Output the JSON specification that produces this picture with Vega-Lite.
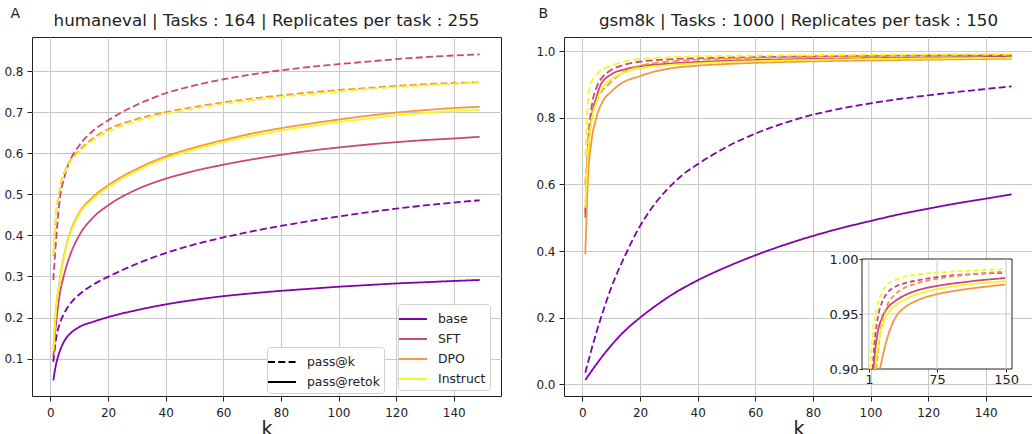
{
"$schema":"https://vega.github.io/schema/vega-lite/v6.json",
"background":"white",
"padding":{"left":3,"top":6,"right":0,"bottom":0},
"config":{
 "font":"DejaVu Sans",
 "view":{"stroke":"#222","strokeWidth":1},
 "axis":{"labelFont":"DejaVu Sans","labelFontSize":12,"labelColor":"#222","tickColor":"#222","tickSize":5,"domain":false,"gridColor":"#c8c8c8","gridWidth":1,"labelPadding":4,"titleFont":"DejaVu Sans","titleFontSize":19,"titleFontWeight":"normal","titleColor":"#222"},
 "title":{"font":"DejaVu Sans","fontSize":16.7,"fontWeight":"normal","color":"#222"},
 "line":{"interpolate":"monotone"},
 "concat":{"spacing":33}
},
"datasets":{
"A":[
{"m":"base","s":"pass@k","k":1,"v":0.092},{"m":"base","s":"pass@k","k":2,"v":0.15},{"m":"base","s":"pass@k","k":3,"v":0.18},{"m":"base","s":"pass@k","k":5,"v":0.213},{"m":"base","s":"pass@k","k":7,"v":0.235},{"m":"base","s":"pass@k","k":10,"v":0.256},{"m":"base","s":"pass@k","k":15,"v":0.281},{"m":"base","s":"pass@k","k":20,"v":0.299},{"m":"base","s":"pass@k","k":30,"v":0.331},{"m":"base","s":"pass@k","k":40,"v":0.357},{"m":"base","s":"pass@k","k":50,"v":0.378},{"m":"base","s":"pass@k","k":60,"v":0.395},{"m":"base","s":"pass@k","k":70,"v":0.41},{"m":"base","s":"pass@k","k":80,"v":0.423},{"m":"base","s":"pass@k","k":90,"v":0.435},{"m":"base","s":"pass@k","k":100,"v":0.446},{"m":"base","s":"pass@k","k":110,"v":0.456},{"m":"base","s":"pass@k","k":120,"v":0.465},{"m":"base","s":"pass@k","k":130,"v":0.473},{"m":"base","s":"pass@k","k":140,"v":0.48},{"m":"base","s":"pass@k","k":149,"v":0.4855},
{"m":"base","s":"pass@retok","k":1,"v":0.047},{"m":"base","s":"pass@retok","k":2,"v":0.088},{"m":"base","s":"pass@retok","k":3,"v":0.113},{"m":"base","s":"pass@retok","k":5,"v":0.145},{"m":"base","s":"pass@retok","k":7,"v":0.162},{"m":"base","s":"pass@retok","k":10,"v":0.177},{"m":"base","s":"pass@retok","k":15,"v":0.19},{"m":"base","s":"pass@retok","k":20,"v":0.201},{"m":"base","s":"pass@retok","k":30,"v":0.218},{"m":"base","s":"pass@retok","k":40,"v":0.232},{"m":"base","s":"pass@retok","k":50,"v":0.243},{"m":"base","s":"pass@retok","k":60,"v":0.252},{"m":"base","s":"pass@retok","k":70,"v":0.259},{"m":"base","s":"pass@retok","k":80,"v":0.265},{"m":"base","s":"pass@retok","k":90,"v":0.27},{"m":"base","s":"pass@retok","k":100,"v":0.275},{"m":"base","s":"pass@retok","k":110,"v":0.279},{"m":"base","s":"pass@retok","k":120,"v":0.283},{"m":"base","s":"pass@retok","k":130,"v":0.286},{"m":"base","s":"pass@retok","k":140,"v":0.289},{"m":"base","s":"pass@retok","k":149,"v":0.2915},
{"m":"SFT","s":"pass@k","k":1,"v":0.291},{"m":"SFT","s":"pass@k","k":2,"v":0.392},{"m":"SFT","s":"pass@k","k":3,"v":0.473},{"m":"SFT","s":"pass@k","k":5,"v":0.546},{"m":"SFT","s":"pass@k","k":7,"v":0.585},{"m":"SFT","s":"pass@k","k":10,"v":0.619},{"m":"SFT","s":"pass@k","k":15,"v":0.656},{"m":"SFT","s":"pass@k","k":20,"v":0.68},{"m":"SFT","s":"pass@k","k":30,"v":0.718},{"m":"SFT","s":"pass@k","k":40,"v":0.746},{"m":"SFT","s":"pass@k","k":50,"v":0.765},{"m":"SFT","s":"pass@k","k":60,"v":0.78},{"m":"SFT","s":"pass@k","k":70,"v":0.792},{"m":"SFT","s":"pass@k","k":80,"v":0.802},{"m":"SFT","s":"pass@k","k":90,"v":0.81},{"m":"SFT","s":"pass@k","k":100,"v":0.817},{"m":"SFT","s":"pass@k","k":110,"v":0.823},{"m":"SFT","s":"pass@k","k":120,"v":0.829},{"m":"SFT","s":"pass@k","k":130,"v":0.834},{"m":"SFT","s":"pass@k","k":140,"v":0.838},{"m":"SFT","s":"pass@k","k":149,"v":0.8405},
{"m":"SFT","s":"pass@retok","k":1,"v":0.104},{"m":"SFT","s":"pass@retok","k":2,"v":0.189},{"m":"SFT","s":"pass@retok","k":3,"v":0.246},{"m":"SFT","s":"pass@retok","k":5,"v":0.311},{"m":"SFT","s":"pass@retok","k":7,"v":0.355},{"m":"SFT","s":"pass@retok","k":10,"v":0.4},{"m":"SFT","s":"pass@retok","k":15,"v":0.445},{"m":"SFT","s":"pass@retok","k":20,"v":0.473},{"m":"SFT","s":"pass@retok","k":30,"v":0.512},{"m":"SFT","s":"pass@retok","k":40,"v":0.538},{"m":"SFT","s":"pass@retok","k":50,"v":0.557},{"m":"SFT","s":"pass@retok","k":60,"v":0.572},{"m":"SFT","s":"pass@retok","k":70,"v":0.585},{"m":"SFT","s":"pass@retok","k":80,"v":0.596},{"m":"SFT","s":"pass@retok","k":90,"v":0.606},{"m":"SFT","s":"pass@retok","k":100,"v":0.614},{"m":"SFT","s":"pass@retok","k":110,"v":0.621},{"m":"SFT","s":"pass@retok","k":120,"v":0.627},{"m":"SFT","s":"pass@retok","k":130,"v":0.632},{"m":"SFT","s":"pass@retok","k":140,"v":0.636},{"m":"SFT","s":"pass@retok","k":149,"v":0.64},
{"m":"DPO","s":"pass@k","k":1,"v":0.35},{"m":"DPO","s":"pass@k","k":2,"v":0.455},{"m":"DPO","s":"pass@k","k":3,"v":0.505},{"m":"DPO","s":"pass@k","k":5,"v":0.556},{"m":"DPO","s":"pass@k","k":7,"v":0.583},{"m":"DPO","s":"pass@k","k":10,"v":0.607},{"m":"DPO","s":"pass@k","k":15,"v":0.638},{"m":"DPO","s":"pass@k","k":20,"v":0.658},{"m":"DPO","s":"pass@k","k":30,"v":0.683},{"m":"DPO","s":"pass@k","k":40,"v":0.7},{"m":"DPO","s":"pass@k","k":50,"v":0.713},{"m":"DPO","s":"pass@k","k":60,"v":0.724},{"m":"DPO","s":"pass@k","k":70,"v":0.733},{"m":"DPO","s":"pass@k","k":80,"v":0.741},{"m":"DPO","s":"pass@k","k":90,"v":0.748},{"m":"DPO","s":"pass@k","k":100,"v":0.754},{"m":"DPO","s":"pass@k","k":110,"v":0.759},{"m":"DPO","s":"pass@k","k":120,"v":0.764},{"m":"DPO","s":"pass@k","k":130,"v":0.768},{"m":"DPO","s":"pass@k","k":140,"v":0.771},{"m":"DPO","s":"pass@k","k":149,"v":0.773},
{"m":"DPO","s":"pass@retok","k":1,"v":0.12},{"m":"DPO","s":"pass@retok","k":2,"v":0.225},{"m":"DPO","s":"pass@retok","k":3,"v":0.28},{"m":"DPO","s":"pass@retok","k":5,"v":0.36},{"m":"DPO","s":"pass@retok","k":7,"v":0.41},{"m":"DPO","s":"pass@retok","k":10,"v":0.455},{"m":"DPO","s":"pass@retok","k":15,"v":0.495},{"m":"DPO","s":"pass@retok","k":20,"v":0.522},{"m":"DPO","s":"pass@retok","k":30,"v":0.562},{"m":"DPO","s":"pass@retok","k":40,"v":0.592},{"m":"DPO","s":"pass@retok","k":50,"v":0.614},{"m":"DPO","s":"pass@retok","k":60,"v":0.632},{"m":"DPO","s":"pass@retok","k":70,"v":0.648},{"m":"DPO","s":"pass@retok","k":80,"v":0.661},{"m":"DPO","s":"pass@retok","k":90,"v":0.672},{"m":"DPO","s":"pass@retok","k":100,"v":0.682},{"m":"DPO","s":"pass@retok","k":110,"v":0.691},{"m":"DPO","s":"pass@retok","k":120,"v":0.699},{"m":"DPO","s":"pass@retok","k":130,"v":0.705},{"m":"DPO","s":"pass@retok","k":140,"v":0.71},{"m":"DPO","s":"pass@retok","k":149,"v":0.713},
{"m":"Instruct","s":"pass@k","k":1,"v":0.352},{"m":"Instruct","s":"pass@k","k":2,"v":0.457},{"m":"Instruct","s":"pass@k","k":3,"v":0.506},{"m":"Instruct","s":"pass@k","k":5,"v":0.554},{"m":"Instruct","s":"pass@k","k":7,"v":0.58},{"m":"Instruct","s":"pass@k","k":10,"v":0.603},{"m":"Instruct","s":"pass@k","k":15,"v":0.633},{"m":"Instruct","s":"pass@k","k":20,"v":0.652},{"m":"Instruct","s":"pass@k","k":30,"v":0.678},{"m":"Instruct","s":"pass@k","k":40,"v":0.696},{"m":"Instruct","s":"pass@k","k":50,"v":0.709},{"m":"Instruct","s":"pass@k","k":60,"v":0.72},{"m":"Instruct","s":"pass@k","k":70,"v":0.729},{"m":"Instruct","s":"pass@k","k":80,"v":0.737},{"m":"Instruct","s":"pass@k","k":90,"v":0.744},{"m":"Instruct","s":"pass@k","k":100,"v":0.75},{"m":"Instruct","s":"pass@k","k":110,"v":0.756},{"m":"Instruct","s":"pass@k","k":120,"v":0.761},{"m":"Instruct","s":"pass@k","k":130,"v":0.765},{"m":"Instruct","s":"pass@k","k":140,"v":0.769},{"m":"Instruct","s":"pass@k","k":149,"v":0.772},
{"m":"Instruct","s":"pass@retok","k":1,"v":0.118},{"m":"Instruct","s":"pass@retok","k":2,"v":0.222},{"m":"Instruct","s":"pass@retok","k":3,"v":0.277},{"m":"Instruct","s":"pass@retok","k":5,"v":0.357},{"m":"Instruct","s":"pass@retok","k":7,"v":0.406},{"m":"Instruct","s":"pass@retok","k":10,"v":0.451},{"m":"Instruct","s":"pass@retok","k":15,"v":0.49},{"m":"Instruct","s":"pass@retok","k":20,"v":0.517},{"m":"Instruct","s":"pass@retok","k":30,"v":0.557},{"m":"Instruct","s":"pass@retok","k":40,"v":0.587},{"m":"Instruct","s":"pass@retok","k":50,"v":0.609},{"m":"Instruct","s":"pass@retok","k":60,"v":0.627},{"m":"Instruct","s":"pass@retok","k":70,"v":0.642},{"m":"Instruct","s":"pass@retok","k":80,"v":0.655},{"m":"Instruct","s":"pass@retok","k":90,"v":0.666},{"m":"Instruct","s":"pass@retok","k":100,"v":0.676},{"m":"Instruct","s":"pass@retok","k":110,"v":0.684},{"m":"Instruct","s":"pass@retok","k":120,"v":0.692},{"m":"Instruct","s":"pass@retok","k":130,"v":0.698},{"m":"Instruct","s":"pass@retok","k":140,"v":0.703},{"m":"Instruct","s":"pass@retok","k":149,"v":0.706}
],
"B":[
{"m":"base","s":"pass@k","k":1,"v":0.035},{"m":"base","s":"pass@k","k":2,"v":0.068},{"m":"base","s":"pass@k","k":3,"v":0.1},{"m":"base","s":"pass@k","k":5,"v":0.16},{"m":"base","s":"pass@k","k":7,"v":0.215},{"m":"base","s":"pass@k","k":10,"v":0.29},{"m":"base","s":"pass@k","k":15,"v":0.39},{"m":"base","s":"pass@k","k":20,"v":0.475},{"m":"base","s":"pass@k","k":25,"v":0.54},{"m":"base","s":"pass@k","k":30,"v":0.59},{"m":"base","s":"pass@k","k":35,"v":0.63},{"m":"base","s":"pass@k","k":40,"v":0.66},{"m":"base","s":"pass@k","k":50,"v":0.712},{"m":"base","s":"pass@k","k":60,"v":0.752},{"m":"base","s":"pass@k","k":75,"v":0.797},{"m":"base","s":"pass@k","k":90,"v":0.828},{"m":"base","s":"pass@k","k":100,"v":0.843},{"m":"base","s":"pass@k","k":110,"v":0.856},{"m":"base","s":"pass@k","k":120,"v":0.867},{"m":"base","s":"pass@k","k":130,"v":0.877},{"m":"base","s":"pass@k","k":140,"v":0.886},{"m":"base","s":"pass@k","k":149,"v":0.894},
{"m":"base","s":"pass@retok","k":1,"v":0.013},{"m":"base","s":"pass@retok","k":3,"v":0.038},{"m":"base","s":"pass@retok","k":5,"v":0.062},{"m":"base","s":"pass@retok","k":7,"v":0.085},{"m":"base","s":"pass@retok","k":10,"v":0.117},{"m":"base","s":"pass@retok","k":15,"v":0.163},{"m":"base","s":"pass@retok","k":20,"v":0.2},{"m":"base","s":"pass@retok","k":25,"v":0.233},{"m":"base","s":"pass@retok","k":30,"v":0.263},{"m":"base","s":"pass@retok","k":40,"v":0.312},{"m":"base","s":"pass@retok","k":50,"v":0.352},{"m":"base","s":"pass@retok","k":60,"v":0.387},{"m":"base","s":"pass@retok","k":75,"v":0.432},{"m":"base","s":"pass@retok","k":90,"v":0.469},{"m":"base","s":"pass@retok","k":100,"v":0.49},{"m":"base","s":"pass@retok","k":110,"v":0.51},{"m":"base","s":"pass@retok","k":120,"v":0.527},{"m":"base","s":"pass@retok","k":130,"v":0.543},{"m":"base","s":"pass@retok","k":140,"v":0.557},{"m":"base","s":"pass@retok","k":149,"v":0.57},
{"m":"SFT","s":"pass@k","k":1,"v":0.515},{"m":"SFT","s":"pass@k","k":2,"v":0.73},{"m":"SFT","s":"pass@k","k":3,"v":0.82},{"m":"SFT","s":"pass@k","k":5,"v":0.893},{"m":"SFT","s":"pass@k","k":5.3,"v":0.9},{"m":"SFT","s":"pass@k","k":7,"v":0.922},{"m":"SFT","s":"pass@k","k":10,"v":0.943},{"m":"SFT","s":"pass@k","k":15,"v":0.96},{"m":"SFT","s":"pass@k","k":20,"v":0.968},{"m":"SFT","s":"pass@k","k":30,"v":0.975},{"m":"SFT","s":"pass@k","k":40,"v":0.978},{"m":"SFT","s":"pass@k","k":50,"v":0.98},{"m":"SFT","s":"pass@k","k":60,"v":0.9815},{"m":"SFT","s":"pass@k","k":75,"v":0.9835},{"m":"SFT","s":"pass@k","k":90,"v":0.985},{"m":"SFT","s":"pass@k","k":100,"v":0.9855},{"m":"SFT","s":"pass@k","k":110,"v":0.986},{"m":"SFT","s":"pass@k","k":120,"v":0.9865},{"m":"SFT","s":"pass@k","k":130,"v":0.987},{"m":"SFT","s":"pass@k","k":140,"v":0.9872},{"m":"SFT","s":"pass@k","k":149,"v":0.9875},
{"m":"SFT","s":"pass@retok","k":1,"v":0.5},{"m":"SFT","s":"pass@retok","k":2,"v":0.7},{"m":"SFT","s":"pass@retok","k":3,"v":0.79},{"m":"SFT","s":"pass@retok","k":5,"v":0.865},{"m":"SFT","s":"pass@retok","k":6.4,"v":0.9},{"m":"SFT","s":"pass@retok","k":7,"v":0.908},{"m":"SFT","s":"pass@retok","k":10,"v":0.93},{"m":"SFT","s":"pass@retok","k":15,"v":0.946},{"m":"SFT","s":"pass@retok","k":20,"v":0.954},{"m":"SFT","s":"pass@retok","k":30,"v":0.962},{"m":"SFT","s":"pass@retok","k":40,"v":0.967},{"m":"SFT","s":"pass@retok","k":50,"v":0.9705},{"m":"SFT","s":"pass@retok","k":60,"v":0.973},{"m":"SFT","s":"pass@retok","k":75,"v":0.9755},{"m":"SFT","s":"pass@retok","k":90,"v":0.9775},{"m":"SFT","s":"pass@retok","k":100,"v":0.9785},{"m":"SFT","s":"pass@retok","k":110,"v":0.9795},{"m":"SFT","s":"pass@retok","k":120,"v":0.9805},{"m":"SFT","s":"pass@retok","k":130,"v":0.9813},{"m":"SFT","s":"pass@retok","k":140,"v":0.982},{"m":"SFT","s":"pass@retok","k":149,"v":0.9828},
{"m":"DPO","s":"pass@k","k":1,"v":0.6},{"m":"DPO","s":"pass@k","k":2,"v":0.72},{"m":"DPO","s":"pass@k","k":3,"v":0.79},{"m":"DPO","s":"pass@k","k":5,"v":0.85},{"m":"DPO","s":"pass@k","k":7,"v":0.883},{"m":"DPO","s":"pass@k","k":9,"v":0.9},{"m":"DPO","s":"pass@k","k":10,"v":0.908},{"m":"DPO","s":"pass@k","k":15,"v":0.941},{"m":"DPO","s":"pass@k","k":20,"v":0.956},{"m":"DPO","s":"pass@k","k":30,"v":0.968},{"m":"DPO","s":"pass@k","k":40,"v":0.974},{"m":"DPO","s":"pass@k","k":50,"v":0.977},{"m":"DPO","s":"pass@k","k":60,"v":0.9795},{"m":"DPO","s":"pass@k","k":75,"v":0.982},{"m":"DPO","s":"pass@k","k":90,"v":0.984},{"m":"DPO","s":"pass@k","k":100,"v":0.985},{"m":"DPO","s":"pass@k","k":110,"v":0.986},{"m":"DPO","s":"pass@k","k":120,"v":0.9868},{"m":"DPO","s":"pass@k","k":130,"v":0.9875},{"m":"DPO","s":"pass@k","k":140,"v":0.988},{"m":"DPO","s":"pass@k","k":149,"v":0.9885},
{"m":"DPO","s":"pass@retok","k":1,"v":0.39},{"m":"DPO","s":"pass@retok","k":2,"v":0.63},{"m":"DPO","s":"pass@retok","k":3,"v":0.72},{"m":"DPO","s":"pass@retok","k":5,"v":0.805},{"m":"DPO","s":"pass@retok","k":7,"v":0.848},{"m":"DPO","s":"pass@retok","k":10,"v":0.878},{"m":"DPO","s":"pass@retok","k":13,"v":0.9},{"m":"DPO","s":"pass@retok","k":20,"v":0.925},{"m":"DPO","s":"pass@retok","k":25,"v":0.938},{"m":"DPO","s":"pass@retok","k":30,"v":0.947},{"m":"DPO","s":"pass@retok","k":40,"v":0.956},{"m":"DPO","s":"pass@retok","k":50,"v":0.961},{"m":"DPO","s":"pass@retok","k":60,"v":0.9645},{"m":"DPO","s":"pass@retok","k":75,"v":0.968},{"m":"DPO","s":"pass@retok","k":90,"v":0.9705},{"m":"DPO","s":"pass@retok","k":100,"v":0.9718},{"m":"DPO","s":"pass@retok","k":110,"v":0.973},{"m":"DPO","s":"pass@retok","k":120,"v":0.974},{"m":"DPO","s":"pass@retok","k":130,"v":0.975},{"m":"DPO","s":"pass@retok","k":140,"v":0.976},{"m":"DPO","s":"pass@retok","k":149,"v":0.9768},
{"m":"Instruct","s":"pass@k","k":1,"v":0.685},{"m":"Instruct","s":"pass@k","k":2,"v":0.86},{"m":"Instruct","s":"pass@k","k":2.8,"v":0.9},{"m":"Instruct","s":"pass@k","k":3,"v":0.905},{"m":"Instruct","s":"pass@k","k":5,"v":0.93},{"m":"Instruct","s":"pass@k","k":7,"v":0.944},{"m":"Instruct","s":"pass@k","k":10,"v":0.956},{"m":"Instruct","s":"pass@k","k":15,"v":0.969},{"m":"Instruct","s":"pass@k","k":20,"v":0.976},{"m":"Instruct","s":"pass@k","k":30,"v":0.981},{"m":"Instruct","s":"pass@k","k":40,"v":0.984},{"m":"Instruct","s":"pass@k","k":50,"v":0.9855},{"m":"Instruct","s":"pass@k","k":60,"v":0.9865},{"m":"Instruct","s":"pass@k","k":75,"v":0.9875},{"m":"Instruct","s":"pass@k","k":90,"v":0.9885},{"m":"Instruct","s":"pass@k","k":100,"v":0.989},{"m":"Instruct","s":"pass@k","k":110,"v":0.9895},{"m":"Instruct","s":"pass@k","k":120,"v":0.99},{"m":"Instruct","s":"pass@k","k":130,"v":0.9903},{"m":"Instruct","s":"pass@k","k":140,"v":0.9906},{"m":"Instruct","s":"pass@k","k":149,"v":0.991},
{"m":"Instruct","s":"pass@retok","k":1,"v":0.53},{"m":"Instruct","s":"pass@retok","k":2,"v":0.7},{"m":"Instruct","s":"pass@retok","k":3,"v":0.78},{"m":"Instruct","s":"pass@retok","k":5,"v":0.85},{"m":"Instruct","s":"pass@retok","k":7,"v":0.89},{"m":"Instruct","s":"pass@retok","k":7.9,"v":0.9},{"m":"Instruct","s":"pass@retok","k":10,"v":0.915},{"m":"Instruct","s":"pass@retok","k":15,"v":0.937},{"m":"Instruct","s":"pass@retok","k":20,"v":0.948},{"m":"Instruct","s":"pass@retok","k":30,"v":0.958},{"m":"Instruct","s":"pass@retok","k":40,"v":0.963},{"m":"Instruct","s":"pass@retok","k":50,"v":0.967},{"m":"Instruct","s":"pass@retok","k":60,"v":0.9695},{"m":"Instruct","s":"pass@retok","k":75,"v":0.9725},{"m":"Instruct","s":"pass@retok","k":90,"v":0.9748},{"m":"Instruct","s":"pass@retok","k":100,"v":0.976},{"m":"Instruct","s":"pass@retok","k":110,"v":0.977},{"m":"Instruct","s":"pass@retok","k":120,"v":0.9778},{"m":"Instruct","s":"pass@retok","k":130,"v":0.9785},{"m":"Instruct","s":"pass@retok","k":140,"v":0.9792},{"m":"Instruct","s":"pass@retok","k":149,"v":0.9798}
]
},
"hconcat":[
{
 "title":{"text":"A","anchor":"start","frame":"bounds","fontSize":14,"dx":7,"offset":-8},
 "resolve":{"legend":{"color":"independent","strokeDash":"independent"}},
 "vconcat":[{
  "width":469,"height":359,
  "title":{"text":"humaneval | Tasks : 164 | Replicates per task : 255","frame":"group","anchor":"middle","offset":7},
  "data":{"name":"A"},
  "mark":{"type":"line","strokeWidth":1.8},
  "encoding":{
   "x":{"field":"k","type":"quantitative","scale":{"domain":[-6.4,156.4],"nice":false,"zero":false},"axis":{"values":[0,20,40,60,80,100,120,140],"title":"k","labelPadding":6,"titlePadding":1}},
   "y":{"field":"v","type":"quantitative","scale":{"domain":[0.009,0.883],"nice":false,"zero":false},"axis":{"values":[0.1,0.2,0.3,0.4,0.5,0.6,0.7,0.8],"format":".1f","title":null}},
   "color":{"field":"m","type":"nominal","scale":{"domain":["base","SFT","DPO","Instruct"],"range":["#7e03a8","#cc4778","#f89540","#f0f921"]},
     "legend":{"title":null,"orient":"none","legendX":366,"legendY":267,"symbolType":"M-1.4,0H1.4","symbolSize":400,"symbolStrokeWidth":2,"labelFont":"DejaVu Sans","labelFontSize":12.4,"labelColor":"#222","labelOffset":14,"rowPadding":2,"padding":4,"strokeColor":"#d0d0d0","fillColor":"white","cornerRadius":3}},
   "strokeDash":{"field":"s","type":"nominal","scale":{"domain":["pass@k","pass@retok"],"range":[[7,3.3],[1,0]]},
     "legend":{"title":null,"orient":"none","legendX":235,"legendY":310,"symbolType":"M-1.4,0H1.4","symbolSize":400,"symbolStrokeWidth":2,"labelFont":"DejaVu Sans","labelFontSize":12.4,"labelColor":"#222","labelOffset":14,"rowPadding":2,"padding":4,"strokeColor":"#d0d0d0","fillColor":"white","cornerRadius":3,
       "encode":{"symbols":{"update":{"stroke":{"value":"black"}}}}}}
  }
 }]
},
{
 "title":{"text":"B","anchor":"start","frame":"bounds","fontSize":14,"dx":3,"offset":-8},
 "vconcat":[{
  "width":469,"height":359,
  "title":{"text":"gsm8k | Tasks : 1000 | Replicates per task : 150","frame":"group","anchor":"middle","offset":7},
  "layer":[
   {
    "data":{"name":"B"},
    "mark":{"type":"line","strokeWidth":1.8},
    "encoding":{
     "x":{"field":"k","type":"quantitative","scale":{"domain":[-6.4,156.4],"nice":false,"zero":false},"axis":{"values":[0,20,40,60,80,100,120,140],"title":"k","labelPadding":6,"titlePadding":1}},
     "y":{"field":"v","type":"quantitative","scale":{"domain":[-0.035,1.042],"nice":false,"zero":false},"axis":{"values":[0,0.2,0.4,0.6,0.8,1.0],"format":".1f","title":null}},
     "color":{"field":"m","type":"nominal","scale":{"domain":["base","SFT","DPO","Instruct"],"range":["#7e03a8","#cc4778","#f89540","#f0f921"]},"legend":null},
     "strokeDash":{"field":"s","type":"nominal","scale":{"domain":["pass@k","pass@retok"],"range":[[7,3.3],[1,0]]},"legend":null}
    }
   },
   {
    "layer":[
     {
      "data":{"values":[{}]},
      "mark":{"type":"rect","fill":"white","stroke":"#222","strokeWidth":1},
      "encoding":{
       "x":{"datum":-6.4,"type":"quantitative","scale":{"domain":[-6.4,156.4],"range":[298,448],"nice":false,"zero":false},"axis":{"orient":"bottom","offset":-27,"values":[1,75,150],"title":null,"grid":false,"zindex":1,"labelFontSize":13,"tickSize":3,"labelPadding":1}},
       "x2":{"datum":156.4},
       "y":{"datum":0.9,"type":"quantitative","scale":{"domain":[0.9,1.0],"range":[332,222],"nice":false,"zero":false},"axis":{"orient":"left","offset":-298,"values":[0.9,0.95,1.0],"format":".2f","title":null,"grid":false,"zindex":1,"labelFontSize":13,"tickSize":3,"labelPadding":1}},
       "y2":{"datum":1.0}
      }
     },
     {
      "data":{"values":[{"g":1},{"g":75},{"g":150}]},
      "mark":{"type":"rule","stroke":"#c8c8c8","strokeWidth":1},
      "encoding":{"x":{"field":"g","type":"quantitative"},"y":{"datum":0.9,"type":"quantitative"},"y2":{"datum":1.0}}
     },
     {
      "data":{"values":[{"g":0.95}]},
      "mark":{"type":"rule","stroke":"#c8c8c8","strokeWidth":1},
      "encoding":{"y":{"field":"g","type":"quantitative"},"x":{"datum":-6.4,"type":"quantitative"},"x2":{"datum":156.4}}
     },
     {
      "data":{"name":"B"},
      "transform":[{"filter":"datum.v >= 0.9"}],
      "mark":{"type":"line","strokeWidth":1.8},
      "encoding":{
       "x":{"field":"k","type":"quantitative"},
       "y":{"field":"v","type":"quantitative"},
       "color":{"field":"m","type":"nominal","scale":{"domain":["base","SFT","DPO","Instruct"],"range":["#7e03a8","#cc4778","#f89540","#f0f921"]},"legend":null},
       "strokeDash":{"field":"s","type":"nominal","scale":{"domain":["pass@k","pass@retok"],"range":[[5,3],[1,0]]},"legend":null}
      }
     }
    ]
   }
  ],
  "resolve":{"scale":{"x":"independent","y":"independent","strokeDash":"independent"},"axis":{"x":"independent","y":"independent"}}
 }]
}
],
"resolve":{"scale":{"color":"independent","strokeDash":"independent"},"legend":{"color":"independent","strokeDash":"independent"}}
}
